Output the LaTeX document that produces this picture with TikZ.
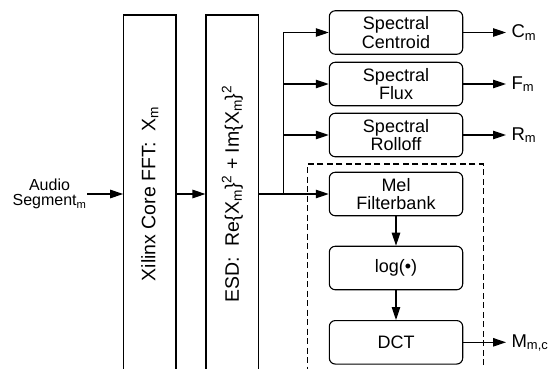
\documentclass[tikz,border=0pt]{standalone}
\usepackage{fontspec}
\setmainfont{Liberation Sans}
\usetikzlibrary{arrows.meta}
\begin{document}
\begin{tikzpicture}[x=1pt,y=-1pt,
  line width=1.1pt,
  arr/.style={-{Triangle[length=13pt,width=8.5pt]}, line width=1.1pt},
  proc/.style={draw, line width=1.1pt, rounded corners=6pt, minimum width=133.4pt, minimum height=43.5pt, align=center, inner sep=0pt, font=\fontsize{18}{18.5}\selectfont},
  tall/.style={draw, line width=1.1pt, minimum height=358pt, inner sep=0pt, font=\fontsize{19.5}{20}\selectfont},
  lbl/.style={anchor=base west, inner sep=0pt, font=\fontsize{18.5}{19}\selectfont},
  grp/.style={draw, line width=1.1pt, dash pattern=on 6pt off 3.5pt, minimum width=176pt, minimum height=215pt, inner sep=0pt}]
\useasboundingbox (0,0) rectangle (551,369);
\clip (0,0) rectangle (551,369);

% input label
\node[anchor=east, align=center, inner sep=0pt, font=\fontsize{16}{15.5}\selectfont] (audio) at (87,194) {Audio\\Segment\textsubscript{m}};

% tall blocks
\node[tall, minimum width=52.3pt] (fft) at (149.85,194) {\rotatebox{90}{Xilinx Core FFT:~~X\textsubscript{m}}};
\node[tall, minimum width=52.7pt] (esd) at (232.35,194) {\rotatebox{90}{ESD:~~Re\textbraceleft X\textsubscript{m}\textbraceright\textsuperscript{2} + Im\textbraceleft X\textsubscript{m}\textbraceright\textsuperscript{2}}};

% dashed group
\node[grp] (mfcc) at (395.3,271.5) {};

% processing boxes
\node[proc] (cen) at (396,32.5) {Spectral\\Centroid};
\node[proc] (flux) at (396,84) {Spectral\\Flux};
\node[proc] (roll) at (396,135) {Spectral\\Rolloff};
\node[proc] (mel) at (396,194) {Mel\\Filterbank};
\node[proc] (log) at (396,268) {log(\textbullet)};
\node[proc] (dct) at (396,342.3) {DCT};

% output labels
\node[lbl] (cm) at (511,37.5) {C\textsubscript{m}};
\node[lbl] (fm) at (511,89) {F\textsubscript{m}};
\node[lbl] (rm) at (511,140) {R\textsubscript{m}};
\node[lbl] (mmc) at (511,347.3) {M\textsubscript{m,c}};

% connectors
\coordinate (jn) at (283.5,194);
\draw[arr] (audio.east) -- (fft.west);
\draw[arr] (fft.east) -- (esd.west);
\draw (esd.east) -- (jn);
\draw[arr] (jn) -- (mel.west);
\draw[arr] (jn) |- (cen.west);
\draw[arr] (jn) |- (flux.west);
\draw[arr] (jn) |- (roll.west);
\draw[arr] (mel.south) -- (log.north);
\draw[arr] (log.south) -- (dct.north);
\draw[arr] (cen.east) -- ([xshift=-5pt]cen.east -| cm.west);
\draw[arr] (flux.east) -- ([xshift=-5pt]flux.east -| fm.west);
\draw[arr] (roll.east) -- ([xshift=-5pt]roll.east -| rm.west);
\draw[arr] (dct.east) -- ([xshift=-5pt]dct.east -| mmc.west);
\end{tikzpicture}
\end{document}
